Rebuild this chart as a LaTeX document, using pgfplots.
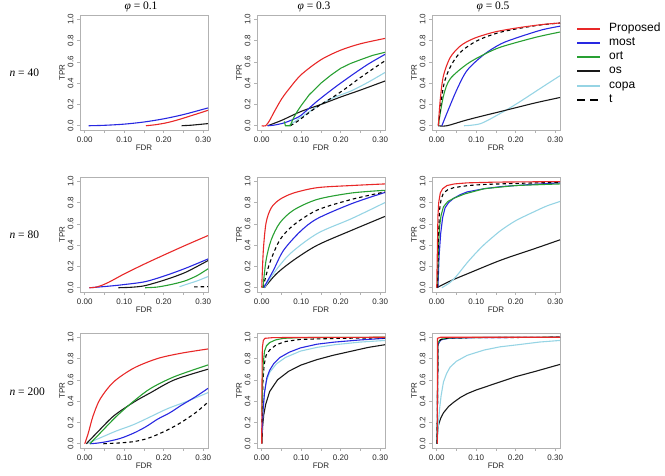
\documentclass[border=0pt]{standalone}
\usepackage{fontspec}
\setmainfont{Liberation Sans}
\newfontfamily\serif{Liberation Serif}
\usepackage{pgfplots}
\pgfplotsset{compat=1.18}

\definecolor{cProp}{RGB}{232,40,40}
\definecolor{cMost}{RGB}{40,40,225}
\definecolor{cOrt}{RGB}{40,160,50}
\definecolor{cOs}{RGB}{25,25,25}
\definecolor{cCopa}{RGB}{150,212,228}

\pgfplotsset{
  panel/.style={
    scale only axis, width=128pt, height=115pt, anchor=south west,
    xmin=-0.012, xmax=0.312, ymin=-0.04, ymax=1.04,
    axis line style={gray!60, line width=0.6pt},
    every tick/.style={gray!60, line width=0.6pt},
    tick align=outside, major tick length=3pt, minor tick length=3pt,
    xtick pos=lower, ytick pos=left,
    xtick={0,0.1,0.2,0.3}, xticklabels={0.00,0.10,0.20,0.30},
    minor xtick={0.05,0.15,0.25},
    ytick={0,0.2,0.4,0.6,0.8,1.0}, yticklabels={0.0,0.2,0.4,0.6,0.8,1.0},
    ticklabel style={font=\fontsize{8}{9}\selectfont, text=black!85},
    yticklabel style={rotate=90, anchor=south},
    xlabel=FDR, ylabel=TPR,
    label style={font=\fontsize{8}{9}\selectfont, text=black!85},
    xlabel style={at={(axis description cs:0.5,-0.155)}, anchor=center},
    ylabel style={at={(axis description cs:-0.14,0.5)}, anchor=center},
    clip=true,
  },
  prop/.style={cProp, line width=1.1pt},
  most/.style={cMost, line width=1.1pt},
  ort/.style={cOrt, line width=1.1pt},
  os/.style={cOs, line width=1.1pt},
  copa/.style={cCopa, line width=1.1pt},
  tt/.style={black, line width=1.1pt, dash pattern=on 3.5pt off 3pt},
}

\begin{document}
\begin{tikzpicture}
\path[use as bounding box] (0pt,0pt) rectangle (665pt,476pt);

% column and row headings
\node[font=\serif\fontsize{11.5}{12}\selectfont] at (141pt,469pt) {\textit{φ} = 0.1};
\node[font=\serif\fontsize{11.5}{12}\selectfont] at (314pt,469pt) {\textit{φ} = 0.3};
\node[font=\serif\fontsize{11.5}{12}\selectfont] at (493pt,469pt) {\textit{φ} = 0.5};
\node[font=\serif\fontsize{11.5}{12}\selectfont, anchor=west] at (6pt,403pt) {\textit{n} = 40};
\node[font=\serif\fontsize{11.5}{12}\selectfont, anchor=west] at (6pt,241pt) {\textit{n} = 80};
\node[font=\serif\fontsize{11.5}{12}\selectfont, anchor=west] at (6pt,84pt) {\textit{n} = 200};

% legend for all panels
\begin{scope}[every node/.style={anchor=mid west, font=\fontsize{12}{12}\selectfont, inner sep=0pt}]
\draw[cProp, line width=2.6pt] (577pt,447pt) -- (600pt,447pt); \node at (609pt,447pt) {Proposed};
\draw[cMost, line width=2.6pt] (577pt,433pt) -- (600pt,433pt); \node at (609pt,433pt) {most};
\draw[cOrt, line width=2.6pt] (577pt,419pt) -- (600pt,419pt); \node at (609pt,419pt) {ort};
\draw[cOs, line width=2.6pt] (577pt,405pt) -- (600pt,405pt); \node at (609pt,405pt) {os};
\draw[cCopa, line width=2.6pt] (577pt,390pt) -- (600pt,390pt); \node at (609pt,390pt) {copa};
\draw[black, line width=2.6pt, dash pattern=on 8pt off 5pt] (577pt,376pt) -- (600pt,376pt); \node at (609pt,376pt) {t};
\end{scope}

% ---------- n = 40 ----------
\begin{axis}[panel, at={(80pt,346pt)}]
\addplot[os] coordinates {(0.245,0)(0.27,0.005)(0.29,0.012)(0.312,0.02)};
\addplot[most, smooth] coordinates {(0.01,0)(0.05,0.004)(0.10,0.015)(0.15,0.035)(0.20,0.065)(0.25,0.105)(0.30,0.155)(0.312,0.167)};
\addplot[prop, smooth] coordinates {(0.155,0)(0.18,0.01)(0.21,0.03)(0.24,0.06)(0.27,0.095)(0.30,0.13)(0.312,0.145)};
\end{axis}

\begin{axis}[panel, at={(257pt,346pt)}]
\addplot[copa, smooth] coordinates {(0.068,0)(0.10,0.08)(0.14,0.18)(0.18,0.26)(0.228,0.33)(0.27,0.41)(0.312,0.50)};
\addplot[os, smooth] coordinates {(0.015,0)(0.05,0.05)(0.10,0.135)(0.15,0.2)(0.20,0.27)(0.25,0.335)(0.312,0.42)};
\addplot[tt, smooth] coordinates {(0.072,0.0)(0.09,0.04)(0.124,0.135)(0.15,0.2)(0.185,0.28)(0.22,0.37)(0.245,0.44)(0.28,0.53)(0.312,0.61)};
\addplot[most, smooth] coordinates {(0.015,0)(0.03,0.005)(0.055,0.025)(0.08,0.06)(0.10,0.10)(0.14,0.23)(0.185,0.36)(0.23,0.48)(0.27,0.58)(0.312,0.67)};
\addplot[ort] coordinates {(0.057,0.04)(0.06,0.0)(0.072,0.0)(0.08,0.07)(0.09,0.135)(0.10,0.19)(0.12,0.29)(0.15,0.40)(0.175,0.475)(0.20,0.54)(0.225,0.585)(0.25,0.62)(0.28,0.66)(0.312,0.69)};
\addplot[prop, smooth] coordinates {(0,0)(0.01,0)(0.02,0.05)(0.03,0.12)(0.05,0.25)(0.07,0.35)(0.10,0.48)(0.15,0.62)(0.20,0.71)(0.25,0.77)(0.312,0.82)};
\end{axis}

\begin{axis}[panel, at={(432pt,346pt)}]
\addplot[copa, smooth] coordinates {(0.069,0)(0.111,0.02)(0.163,0.12)(0.206,0.215)(0.266,0.36)(0.312,0.47)};
\addplot[os, smooth] coordinates {(0.004,0)(0.026,0)(0.077,0.055)(0.163,0.135)(0.25,0.215)(0.312,0.265)};
\addplot[most, smooth] coordinates {(0.013,0)(0.026,0.12)(0.051,0.34)(0.077,0.52)(0.12,0.67)(0.163,0.77)(0.206,0.83)(0.266,0.90)(0.312,0.935)};
\addplot[ort, smooth] coordinates {(0.004,0)(0.017,0.28)(0.034,0.44)(0.077,0.58)(0.12,0.67)(0.163,0.74)(0.25,0.83)(0.312,0.88)};
\addplot[tt, smooth] coordinates {(0.004,0)(0.017,0.37)(0.034,0.55)(0.06,0.69)(0.103,0.80)(0.163,0.88)(0.25,0.94)(0.312,0.965)};
\addplot[prop, smooth] coordinates {(0.004,0)(0.009,0.25)(0.017,0.47)(0.034,0.64)(0.06,0.75)(0.094,0.82)(0.146,0.88)(0.206,0.92)(0.266,0.95)(0.312,0.965)};
\end{axis}

% ---------- n = 80 ----------
\begin{axis}[panel, at={(80pt,184pt)}]
\addplot[copa, smooth] coordinates {(0.24,0.01)(0.256,0.03)(0.285,0.065)(0.312,0.105)};
\addplot[ort, smooth] coordinates {(0.153,0)(0.18,0.005)(0.205,0.02)(0.23,0.04)(0.256,0.067)(0.285,0.115)(0.312,0.178)};
\addplot[os, smooth] coordinates {(0.085,0)(0.12,0.005)(0.153,0.02)(0.205,0.076)(0.256,0.146)(0.312,0.255)};
\addplot[tt] coordinates {(0.277,0.008)(0.312,0.01)};
\addplot[most, smooth] coordinates {(0.012,0)(0.04,0.008)(0.07,0.018)(0.10,0.03)(0.153,0.057)(0.205,0.115)(0.256,0.184)(0.312,0.27)};
\addplot[prop, smooth] coordinates {(0.012,0)(0.025,0.003)(0.04,0.018)(0.06,0.05)(0.085,0.10)(0.10,0.13)(0.153,0.226)(0.205,0.315)(0.256,0.40)(0.312,0.49)};
\end{axis}

\begin{axis}[panel, at={(257pt,184pt)}]
\addplot[os, smooth] coordinates {(0.007,0)(0.037,0.13)(0.081,0.26)(0.141,0.40)(0.228,0.54)(0.312,0.67)};
\addplot[copa, smooth] coordinates {(0.007,0)(0.029,0.13)(0.072,0.32)(0.141,0.51)(0.228,0.65)(0.312,0.80)};
\addplot[most, smooth] coordinates {(0.005,0)(0.029,0.16)(0.055,0.35)(0.098,0.53)(0.141,0.65)(0.228,0.79)(0.312,0.895)};
\addplot[tt, smooth] coordinates {(0.003,0)(0.02,0.23)(0.046,0.45)(0.081,0.59)(0.141,0.73)(0.228,0.83)(0.312,0.90)};
\addplot[ort, smooth] coordinates {(0.003,0)(0.011,0.26)(0.024,0.45)(0.046,0.61)(0.081,0.73)(0.141,0.83)(0.228,0.89)(0.312,0.915)};
\addplot[prop, smooth] coordinates {(0,0)(0.004,0.35)(0.011,0.61)(0.024,0.75)(0.046,0.83)(0.081,0.89)(0.141,0.94)(0.228,0.96)(0.312,0.975)};
\end{axis}

\begin{axis}[panel, at={(432pt,184pt)}]
\addplot[os, smooth] coordinates {(0.0,0)(0.034,0.063)(0.077,0.13)(0.163,0.26)(0.25,0.37)(0.312,0.45)};
\addplot[copa, smooth] coordinates {(0.013,0)(0.034,0.05)(0.05,0.11)(0.077,0.235)(0.10,0.33)(0.12,0.405)(0.14,0.47)(0.163,0.54)(0.20,0.63)(0.25,0.72)(0.28,0.77)(0.312,0.81)};
\addplot[most] coordinates {(0.003,0)(0.006,0.3)(0.01,0.51)(0.015,0.66)(0.021,0.75)(0.03,0.80)(0.043,0.84)(0.06,0.875)(0.077,0.90)(0.12,0.93)(0.163,0.95)(0.24,0.97)(0.312,0.985)};
\addplot[ort] coordinates {(0.002,0)(0.004,0.35)(0.007,0.57)(0.011,0.68)(0.017,0.76)(0.028,0.81)(0.043,0.84)(0.07,0.88)(0.12,0.93)(0.2,0.96)(0.312,0.975)};
\addplot[tt] coordinates {(0.002,0)(0.004,0.45)(0.007,0.73)(0.011,0.83)(0.017,0.89)(0.028,0.92)(0.043,0.94)(0.08,0.96)(0.12,0.97)(0.2,0.98)(0.312,0.99)};
\addplot[prop] coordinates {(0.0,0)(0.002,0.45)(0.003,0.67)(0.005,0.8)(0.009,0.89)(0.015,0.93)(0.026,0.96)(0.045,0.975)(0.077,0.985)(0.15,0.992)(0.312,0.997)};
\end{axis}

% ---------- n = 200 ----------
\begin{axis}[panel, at={(80pt,28pt)}]
\addplot[tt, smooth] coordinates {(0.047,0)(0.09,0.008)(0.124,0.02)(0.155,0.045)(0.184,0.086)(0.215,0.14)(0.244,0.20)(0.28,0.29)(0.312,0.39)};
\addplot[copa, smooth] coordinates {(0.004,0)(0.039,0.055)(0.08,0.12)(0.124,0.18)(0.17,0.26)(0.21,0.33)(0.26,0.40)(0.312,0.48)};
\addplot[most, smooth] coordinates {(0.013,0)(0.03,0.005)(0.056,0.02)(0.09,0.05)(0.124,0.10)(0.155,0.16)(0.184,0.23)(0.215,0.29)(0.244,0.36)(0.28,0.44)(0.312,0.52)};
\addplot[os, smooth] coordinates {(0.004,0)(0.03,0.10)(0.073,0.26)(0.124,0.39)(0.167,0.48)(0.227,0.60)(0.312,0.70)};
\addplot[ort, smooth] coordinates {(0.013,0)(0.039,0.10)(0.081,0.26)(0.124,0.40)(0.167,0.52)(0.227,0.63)(0.312,0.74)};
\addplot[prop, smooth] coordinates {(0,0)(0.009,0.10)(0.021,0.26)(0.039,0.42)(0.073,0.58)(0.124,0.71)(0.184,0.80)(0.244,0.85)(0.312,0.89)};
\end{axis}

\begin{axis}[panel, at={(257pt,28pt)}]
\addplot[os] coordinates {(0.0005,0.0)(0.002,0.15)(0.005,0.27)(0.01,0.37)(0.02,0.49)(0.04,0.60)(0.068,0.68)(0.1,0.74)(0.14,0.79)(0.18,0.83)(0.228,0.87)(0.27,0.905)(0.312,0.93)};
\addplot[copa] coordinates {(0.001,0.1)(0.003,0.3)(0.007,0.48)(0.011,0.58)(0.02,0.67)(0.037,0.75)(0.06,0.81)(0.098,0.87)(0.14,0.905)(0.185,0.93)(0.25,0.955)(0.312,0.97)};
\addplot[most] coordinates {(0.0005,0.1)(0.003,0.3)(0.007,0.48)(0.013,0.62)(0.02,0.69)(0.03,0.75)(0.046,0.81)(0.07,0.86)(0.098,0.90)(0.14,0.935)(0.185,0.955)(0.25,0.975)(0.312,0.99)};
\addplot[tt] coordinates {(0.0005,0.2)(0.003,0.58)(0.006,0.74)(0.011,0.83)(0.02,0.88)(0.037,0.93)(0.06,0.96)(0.098,0.98)(0.2,0.99)(0.312,0.995)};
\addplot[ort] coordinates {(0.0005,0.3)(0.003,0.72)(0.007,0.87)(0.012,0.92)(0.02,0.95)(0.035,0.975)(0.055,0.99)(0.1,0.997)(0.312,1.0)};
\addplot[prop] coordinates {(0,0)(0.0005,0.5)(0.0015,0.9)(0.004,0.97)(0.008,0.99)(0.03,0.997)(0.312,1.0)};
\end{axis}

\begin{axis}[panel, at={(432pt,28pt)}]
\addplot[os] coordinates {(0.0,0.0)(0.002,0.1)(0.004,0.17)(0.01,0.24)(0.017,0.29)(0.03,0.35)(0.043,0.39)(0.06,0.435)(0.077,0.47)(0.1,0.505)(0.12,0.53)(0.16,0.58)(0.2,0.63)(0.25,0.68)(0.312,0.745)};
\addplot[copa] coordinates {(0.001,0)(0.004,0.18)(0.007,0.32)(0.011,0.45)(0.017,0.58)(0.025,0.66)(0.034,0.72)(0.05,0.775)(0.077,0.83)(0.12,0.88)(0.16,0.91)(0.206,0.93)(0.26,0.955)(0.312,0.97)};
\addplot[most] coordinates {(0.001,0)(0.003,0.93)(0.01,0.975)(0.03,0.99)(0.1,0.997)(0.312,1.0)};
\addplot[ort] coordinates {(0.001,0)(0.003,0.95)(0.01,0.98)(0.03,0.993)(0.1,0.998)(0.312,1.0)};
\addplot[tt] coordinates {(0.001,0)(0.003,0.96)(0.012,0.98)(0.03,0.995)(0.312,1.0)};
\addplot[prop] coordinates {(0.0015,0)(0.002,0.99)(0.01,1.0)(0.312,1.0)};
\end{axis}
\end{tikzpicture}
\end{document}
